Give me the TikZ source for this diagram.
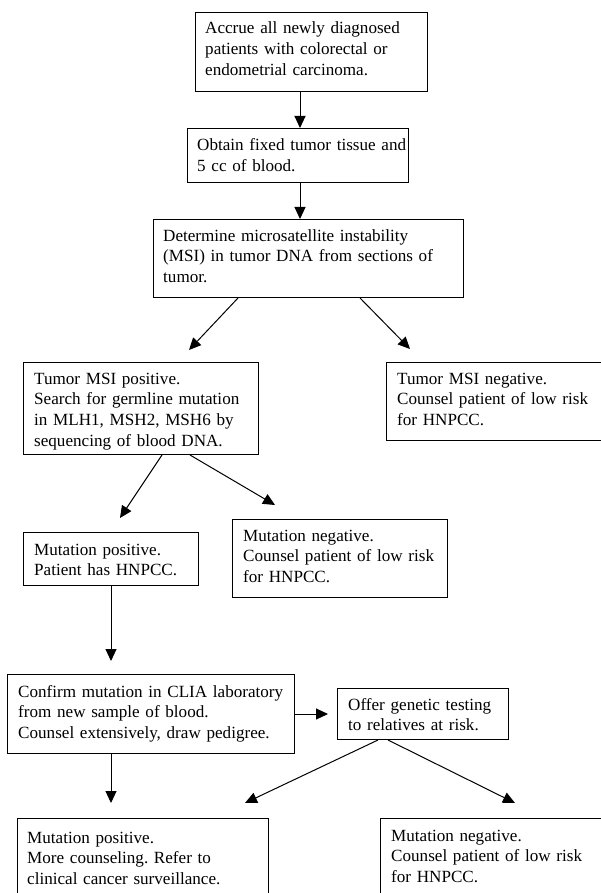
\documentclass[tikz,border=0pt]{standalone}
\usepackage{fontspec}
\setmainfont{Liberation Serif}
\usetikzlibrary{arrows.meta}
\tikzset{
  box/.style={draw, line width=1pt, anchor=north west, inner sep=0pt},
  txt/.style={anchor=base west, inner sep=0pt, text width=320pt, align=left,
    font=\fontsize{17.1}{20.7}\selectfont\frenchspacing},
  arr/.style={line width=1pt, -{Triangle[length=12pt,width=11pt]}}
}
\begin{document}
\begin{tikzpicture}[x=1pt,y=-1pt]
\useasboundingbox[fill=white] (0,0) rectangle (601,893);
\clip (0,0) rectangle (601,893);
% boxes
\node[box, minimum width=232pt, minimum height=79pt] (b1) at (195,12) {};
\node[box, minimum width=221pt, minimum height=54pt] (b2) at (187,128) {};
\node[box, minimum width=310pt, minimum height=78pt] (b3) at (153,219) {};
\node[box, minimum width=235pt, minimum height=92pt] (b4) at (23,362) {};
\node[box, minimum width=230pt, minimum height=78pt] (b5) at (386,362) {};
\node[box, minimum width=175pt, minimum height=53pt] (b6) at (23,532) {};
\node[box, minimum width=215pt, minimum height=78pt] (b7) at (232,519) {};
\node[box, minimum width=287pt, minimum height=79pt] (b8) at (7,674) {};
\node[box, minimum width=171pt, minimum height=51pt] (b9) at (337,688) {};
\node[box, minimum width=251pt, minimum height=100pt] (b10) at (17,818) {};
\node[box, minimum width=230pt, minimum height=100pt] (b11) at (380,818) {};
% texts
\node[txt] (t1) at ([xshift=10pt,yshift=-22pt]b1.north west) {Accrue all newly diagnosed\\patients with colorectal or\\endometrial carcinoma.};
\node[txt] (t2) at ([xshift=10pt,yshift=-23pt]b2.north west) {Obtain fixed tumor tissue and\\5 cc of blood.};
\node[txt] (t3) at ([xshift=10pt,yshift=-22pt]b3.north west) {Determine microsatellite instability\\(MSI) in tumor DNA from sections of\\tumor.};
\node[txt] (t4) at ([xshift=11pt,yshift=-22pt]b4.north west) {Tumor MSI positive.\\Search for germline mutation\\in MLH1, MSH2, MSH6 by\\sequencing of blood DNA.};
\node[txt] (t5) at ([xshift=11pt,yshift=-22pt]b5.north west) {Tumor MSI negative.\\Counsel patient of low risk\\for HNPCC.};
\node[txt] (t6) at ([xshift=11pt,yshift=-23pt]b6.north west) {Mutation positive.\\Patient has HNPCC.};
\node[txt] (t7) at ([xshift=11pt,yshift=-22pt]b7.north west) {Mutation negative.\\Counsel patient of low risk\\for HNPCC.};
\node[txt] (t8) at ([xshift=11pt,yshift=-23pt]b8.north west) {Confirm mutation in CLIA laboratory\\from new sample of blood.\\Counsel extensively, draw pedigree.};
\node[txt] (t9) at ([xshift=11pt,yshift=-22pt]b9.north west) {Offer genetic testing\\to relatives at risk.};
\node[txt] (t10) at ([xshift=10pt,yshift=-25pt]b10.north west) {Mutation positive.\\More counseling. Refer to\\clinical cancer surveillance.};
\node[txt] (t11) at ([xshift=11pt,yshift=-23pt]b11.north west) {Mutation negative.\\Counsel patient of low risk\\for HNPCC.};
% connectors
\draw[arr] ([xshift=105pt]b1.south west) -- ([xshift=113pt]b2.north west);
\draw[arr] ([xshift=113pt]b2.south west) -- ([xshift=147pt]b3.north west);
\draw[arr] ([xshift=85pt]b3.south west) -- ([xshift=166pt,yshift=12pt]b4.north west);
\draw[arr] ([xshift=207pt]b3.south west) -- ([xshift=24pt,yshift=13pt]b5.north west);
\draw[arr] ([xshift=139pt]b4.south west) -- ([xshift=97pt,yshift=14pt]b6.north west);
\draw[arr] ([xshift=167pt]b4.south west) -- ([xshift=43pt,yshift=14pt]b7.north west);
\draw[arr] ([xshift=88pt]b6.south west) -- ([xshift=104pt,yshift=13pt]b8.north west);
\draw[arr] (b8.east) -- ([xshift=-9pt]b9.west);
\draw[arr] ([xshift=104pt]b8.south west) -- ([xshift=94pt,yshift=15pt]b10.north west);
\draw[arr] ([xshift=41pt]b9.south west) -- ([xshift=228pt,yshift=15pt]b10.north west);
\draw[arr] ([xshift=51pt]b9.south west) -- ([xshift=135pt,yshift=15pt]b11.north west);
\end{tikzpicture}
\end{document}
